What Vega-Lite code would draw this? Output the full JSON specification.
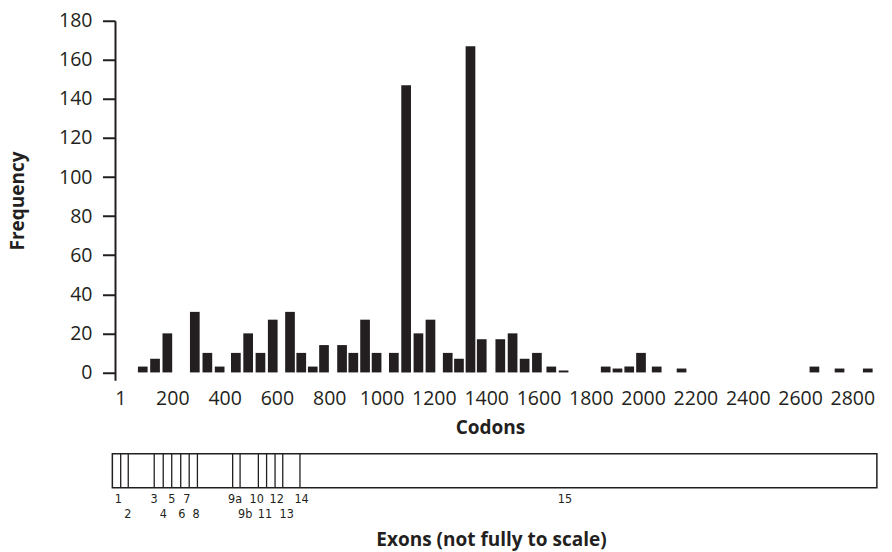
{
  "$schema": "https://vega.github.io/schema/vega-lite/v6.json",
  "autosize": {"type": "pad"},
  "padding": {"left": 8, "top": 10.75, "right": 0, "bottom": 6},
  "background": "white",
  "bounds": "flush",
  "spacing": 73,
  "config": {"view": {"stroke": null}, "font": "Open Sans"},
  "vconcat": [
    {
      "width": 768.5,
      "height": 359.5,
      "data": {"values": [
        {"codon": 87, "frequency": 3}, {"codon": 134, "frequency": 7}, {"codon": 181, "frequency": 20},
        {"codon": 286, "frequency": 31}, {"codon": 334, "frequency": 10}, {"codon": 381, "frequency": 3},
        {"codon": 443, "frequency": 10}, {"codon": 490, "frequency": 20}, {"codon": 537, "frequency": 10},
        {"codon": 584, "frequency": 27}, {"codon": 650, "frequency": 31}, {"codon": 693, "frequency": 10},
        {"codon": 737, "frequency": 3}, {"codon": 780, "frequency": 14}, {"codon": 849, "frequency": 14},
        {"codon": 892, "frequency": 10}, {"codon": 937, "frequency": 27}, {"codon": 981, "frequency": 10},
        {"codon": 1047, "frequency": 10}, {"codon": 1094, "frequency": 147}, {"codon": 1141, "frequency": 20},
        {"codon": 1187, "frequency": 27}, {"codon": 1253, "frequency": 10}, {"codon": 1296, "frequency": 7},
        {"codon": 1340, "frequency": 167}, {"codon": 1383, "frequency": 17}, {"codon": 1454, "frequency": 17},
        {"codon": 1501, "frequency": 20}, {"codon": 1547, "frequency": 7}, {"codon": 1594, "frequency": 10},
        {"codon": 1649, "frequency": 3}, {"codon": 1696, "frequency": 1}, {"codon": 1857, "frequency": 3},
        {"codon": 1902, "frequency": 2}, {"codon": 1947, "frequency": 3}, {"codon": 1992, "frequency": 10},
        {"codon": 2052, "frequency": 3}, {"codon": 2147, "frequency": 2}, {"codon": 2655, "frequency": 3},
        {"codon": 2751, "frequency": 2}, {"codon": 2859, "frequency": 2}
      ]},
      "mark": {"type": "bar", "size": 9.7, "color": "#231f20"},
      "encoding": {
        "x": {
          "field": "codon", "type": "quantitative",
          "scale": {"domain": [0, 2900], "nice": false, "zero": false},
          "axis": {
            "values": [1, 200, 400, 600, 800, 1000, 1200, 1400, 1600, 1800, 2000, 2200, 2400, 2600, 2800],
            "format": "d",
            "title": "Codons", "ticks": false, "domain": false, "grid": false,
            "labelFontSize": 19.5, "labelColor": "#231f20", "labelPadding": 9.5, "labelFlush": false,
            "labelOverlap": false,
            "titleFontSize": 19, "titleFontWeight": "bold", "titleColor": "#231f20", "titlePadding": 10,
            "titleX": 375
          }
        },
        "y": {
          "field": "frequency", "type": "quantitative",
          "scale": {"domain": [-4, 180], "nice": false},
          "axis": {
            "values": [0, 20, 40, 60, 80, 100, 120, 140, 160, 180],
            "title": "Frequency", "grid": false,
            "tickSize": 12.5, "tickWidth": 2, "tickColor": "#231f20",
            "domainWidth": 2, "domainColor": "#231f20",
            "labelFontSize": 19.5, "labelColor": "#231f20", "labelPadding": 10.5,
            "titleFontSize": 19, "titleFontWeight": "bold", "titleColor": "#231f20", "titlePadding": 31.5
          }
        }
      }
    },
    {
      "width": 768.5,
      "height": 34,
      "layer": [
        {
          "data": {"values": [{"start": -10, "end": 2875}]},
          "mark": {"type": "rect", "fill": "white", "stroke": "#231f20", "strokeWidth": 1.5},
          "encoding": {
            "x": {
              "field": "start", "type": "quantitative",
              "scale": {"domain": [0, 2900], "nice": false, "zero": false},
              "axis": {
                "title": "Exons (not fully to scale)", "labels": false, "ticks": false, "domain": false, "grid": false,
                "titleFontSize": 19, "titleFontWeight": "bold", "titleColor": "#231f20", "titlePadding": 43,
                "titleX": 376
              }
            },
            "x2": {"field": "end"}
          }
        },
        {
          "data": {"values": [
            {"pos": 21.5}, {"pos": 50}, {"pos": 148}, {"pos": 182}, {"pos": 214}, {"pos": 248},
            {"pos": 280}, {"pos": 311}, {"pos": 444}, {"pos": 472}, {"pos": 541}, {"pos": 572},
            {"pos": 604}, {"pos": 633}, {"pos": 698}
          ]},
          "mark": {"type": "rule", "color": "#231f20", "strokeWidth": 1.3},
          "encoding": {"x": {"field": "pos", "type": "quantitative"}}
        },
        {
          "data": {"values": [
            {"label": "1", "pos": 12.5, "row": 1}, {"label": "3", "pos": 147, "row": 1},
            {"label": "5", "pos": 214, "row": 1}, {"label": "7", "pos": 271, "row": 1},
            {"label": "9a", "pos": 453, "row": 1}, {"label": "10", "pos": 535, "row": 1},
            {"label": "12", "pos": 610, "row": 1}, {"label": "14", "pos": 704, "row": 1},
            {"label": "15", "pos": 1698, "row": 1},
            {"label": "2", "pos": 48, "row": 2}, {"label": "4", "pos": 182, "row": 2},
            {"label": "6", "pos": 252, "row": 2}, {"label": "8", "pos": 306, "row": 2},
            {"label": "9b", "pos": 491, "row": 2}, {"label": "11", "pos": 566, "row": 2},
            {"label": "13", "pos": 648, "row": 2}
          ]},
          "mark": {"type": "text", "font": "'DejaVu Sans Condensed', 'Liberation Sans', sans-serif", "fontSize": 12.5, "color": "#231f20", "baseline": "middle", "align": "center"},
          "encoding": {
            "x": {"field": "pos", "type": "quantitative"},
            "y": {"field": "row", "type": "quantitative", "scale": {"domain": [-2, 0.2667], "reverse": true, "nice": false, "zero": false}, "axis": null},
            "text": {"field": "label"}
          }
        }
      ]
    }
  ]
}
